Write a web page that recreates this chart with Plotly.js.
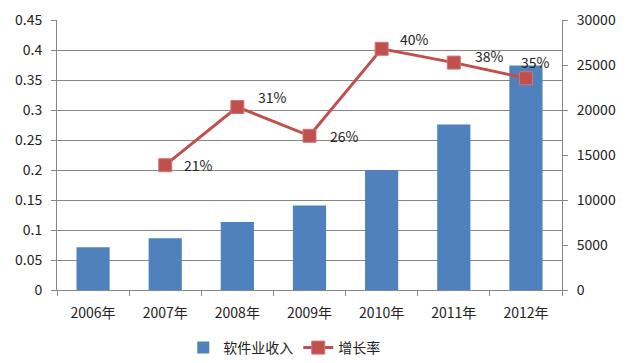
<!DOCTYPE html>
<html><head><meta charset="utf-8">
<script src="https://cdn.plot.ly/plotly-3.0.1.min.js"></script>
<style>body{margin:0;background:#fff}#c{width:631px;height:363px}</style>
</head><body><div id="c"></div>
<script>
const years = ['2006年','2007年','2008年','2009年','2010年','2011年','2012年'];
const revenue = [4750, 5750, 7550, 9400, 13300, 18400, 24950];
const growthYears = ['2007年','2008年','2009年','2010年','2011年','2012年'];
const growth = [0.208, 0.305, 0.257, 0.402, 0.379, 0.353];
const growthLabels = ['21%','31%','26%','40%','38%','35%'];
// label offsets (px) relative to each marker
const labelDx = [17, 19, 18, 16, 19, -7];
const labelDy = [0, 10, 0, 10, 7, 16];

const fam = '"Noto Sans CJK SC", "DejaVu Sans", sans-serif';
const font = {family: fam, size: 14, color: '#222'};
const traces = [
  {type:'bar', name:'软件业收入', x: years, y: revenue, yaxis:'y',
   marker:{color:'#4f81bd'}, hoverinfo:'none'},
  {type:'scatter', mode:'lines+markers', name:'增长率', x: growthYears, y: growth, yaxis:'y2',
   line:{color:'#c0504d', width:3}, marker:{symbol:'square', size:13, color:'#c0504d', line:{color:'#d07573', width:1}},
   cliponaxis:false}
];
const annotations = growthYears.map((x, i) => ({
  x: x, y: growth[i], xref:'x', yref:'y2', text: growthLabels[i], showarrow:false,
  xanchor:'left', yanchor:'middle', xshift: labelDx[i], yshift: labelDy[i],
  font:{family: fam, size:14, color:'#222'}
}));
const layout = {
  width:631, height:363,
  margin:{l:57, r:69, t:20, b:72.5, pad:0},
  paper_bgcolor:'#fff', plot_bgcolor:'#fff',
  font: font,
  showlegend:true,
  legend:{orientation:'h', x:0.45, xanchor:'center', xref:'paper', yref:'container', y:15/363, yanchor:'middle',
          font:{family:fam,size:14,color:'#222'}},
  annotations: annotations,
  bargap:0.54,
  xaxis:{type:'category', showline:true, linecolor:'#868686', linewidth:1, ticks:'outside', tickson:'boundaries',
         ticklen:5, tickcolor:'#868686', showgrid:false, tickfont:{size:14}, ticklabelstandoff:10},
  yaxis:{side:'right', range:[0,30000], dtick:5000, tickformat:'d', showline:true, linecolor:'#868686', ticks:'outside',
         ticklen:5, tickcolor:'#868686', showgrid:false, zeroline:false, tickfont:{size:14}, ticklabelstandoff:6},
  yaxis2:{side:'left', overlaying:'y', range:[0,0.45], dtick:0.05, showline:true, linecolor:'#868686', ticks:'outside',
         ticklen:5, tickcolor:'#868686', showgrid:true, gridcolor:'#868686', gridwidth:1, zeroline:false, tickfont:{size:14}, ticklabelstandoff:6}
};
Plotly.newPlot('c', traces, layout, {displayModeBar:false, staticPlot:true});
</script></body></html>
